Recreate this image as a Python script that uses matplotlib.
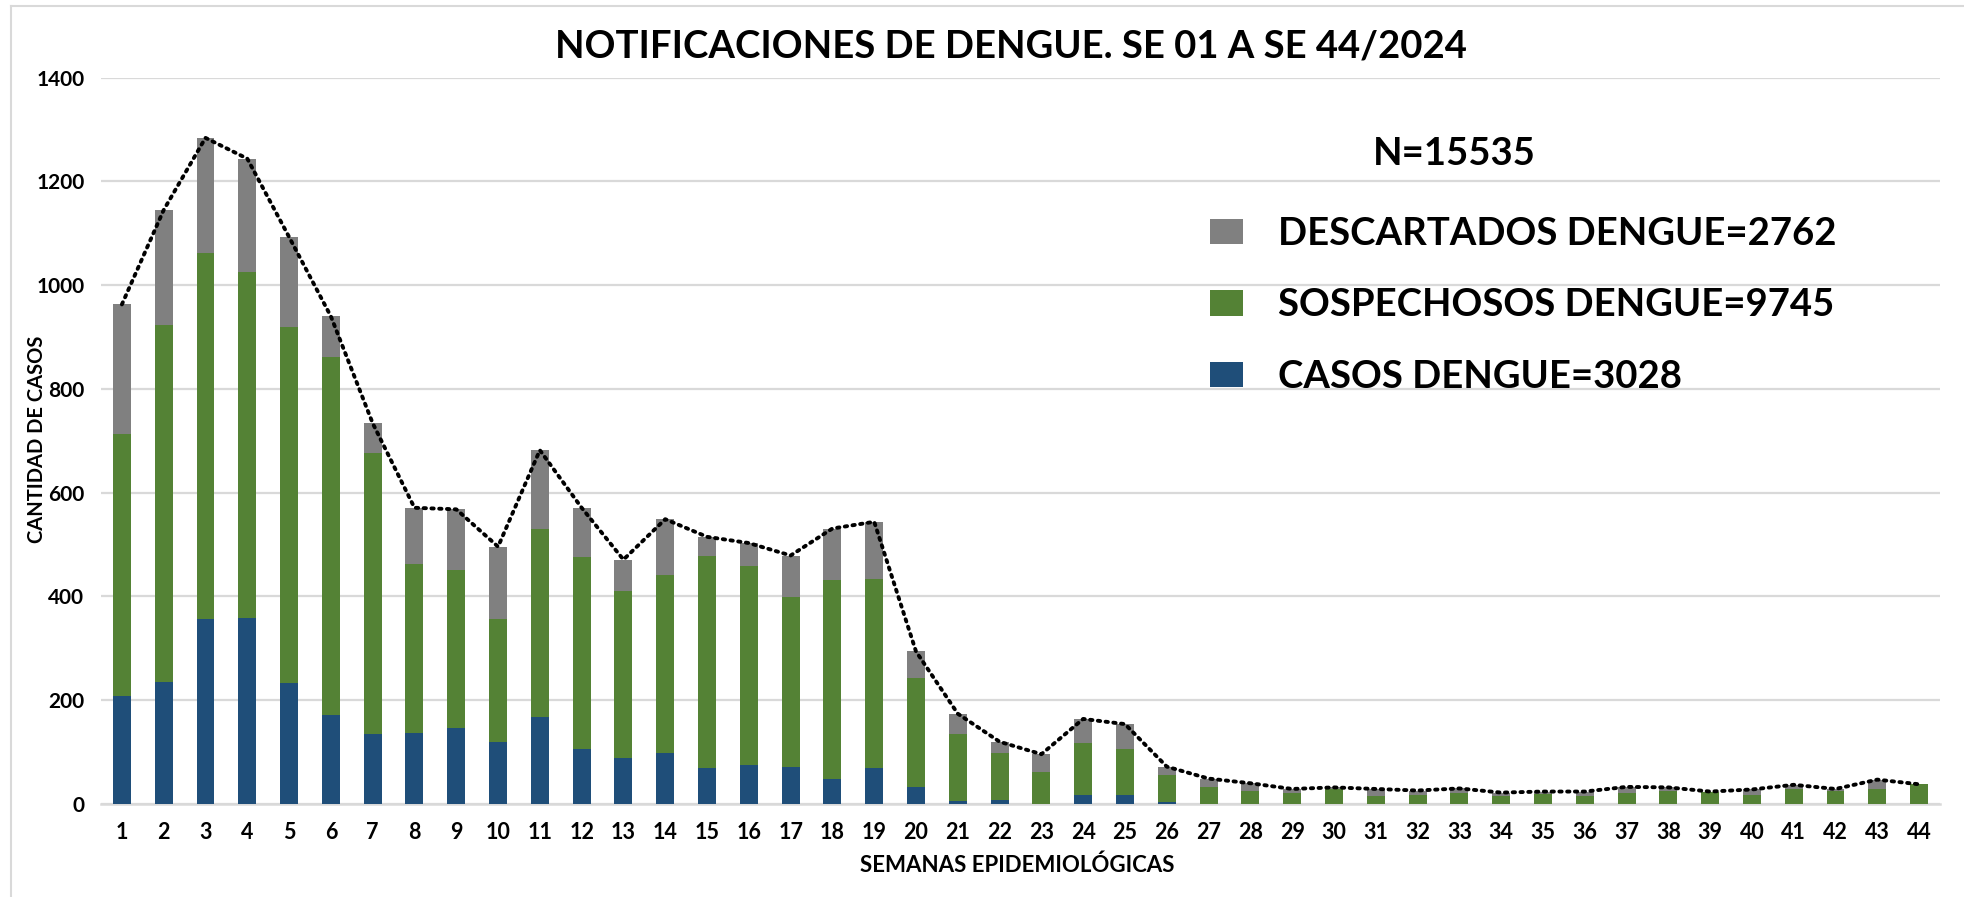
import matplotlib
matplotlib.use("Agg")
import matplotlib.pyplot as plt
from matplotlib.lines import Line2D
import numpy as np

plt.rcParams['font.family'] = ['Lato', 'DejaVu Sans']

semanas = [str(i) for i in range(1, 45)]
casos = [208, 236, 356, 359, 233, 171, 134, 137, 147, 120,
         168, 106, 89, 99, 69, 76, 72, 49, 69, 32,
         5, 8, 0, 18, 18, 4, 0, 0, 0, 0,
         0, 0, 0, 0, 0, 0, 0, 0, 0, 0,
         0, 0, 0, 0]
sospechosos = [506, 687, 707, 666, 687, 690, 543, 325, 304, 236,
               362, 370, 321, 342, 410, 382, 327, 382, 365, 211,
               129, 91, 62, 99, 88, 52, 32, 25, 22, 29,
               15, 18, 21, 15, 19, 15, 21, 26, 23, 18,
               29, 26, 28, 38]
descartados = [249, 222, 221, 219, 173, 79, 57, 109, 117, 140,
               152, 95, 61, 108, 36, 45, 80, 100, 110, 51,
               40, 21, 34, 47, 48, 16, 17, 15, 7, 3,
               14, 8, 9, 7, 5, 9, 12, 6, 1, 10,
               8, 3, 19, 0]
yticks = [0, 200, 400, 600, 800, 1000, 1200, 1400]
labels = ["DESCARTADOS DENGUE=2762", "SOSPECHOSOS DENGUE=9745", "CASOS DENGUE=3028"]
titulo = "NOTIFICACIONES DE DENGUE. SE 01 A SE 44/2024"
n_text = "N=15535"

c_blue = "#1F4E79"
c_green = "#548235"
c_gray = "#808080"
c_grid = "#D9D9D9"

W, H = 1964, 897
fig = plt.figure(figsize=(W / 100, H / 100), dpi=100)
ax = fig.add_axes([101 / W, 1 - 804 / H, (1940 - 101) / W, (804 - 77.7) / H])

x = np.arange(1, len(semanas) + 1)
c = np.array(casos)
s = np.array(sospechosos)
d = np.array(descartados)
bw = 0.43
b1 = ax.bar(x, c, bw, color=c_blue, zorder=3)
b2 = ax.bar(x, s, bw, bottom=c, color=c_green, zorder=3)
b3 = ax.bar(x, d, bw, bottom=c + s, color=c_gray, zorder=3)
total = c + s + d
ax.plot(x, total, color="black", lw=2.8, linestyle=(0, (0.6, 1.4)),
        dash_capstyle="round", zorder=4)

ax.set_xlim(0.5, len(semanas) + 0.5)
ax.set_ylim(0, 1400)
ax.set_yticks(yticks)
ax.set_yticklabels([str(v) for v in yticks], fontsize=15, fontweight="bold")
ax.set_xticks(x)
ax.set_xticklabels(semanas, fontsize=15.5, fontweight="bold")
ax.tick_params(axis="both", length=0)
ax.tick_params(axis="x", pad=13)
ax.tick_params(axis="y", pad=12)
ax.yaxis.grid(True, color=c_grid, lw=1.6, zorder=0)
for sp in ["top", "right", "left"]:
    ax.spines[sp].set_visible(False)
ax.spines["bottom"].set_color(c_grid)
ax.spines["bottom"].set_linewidth(1.8)

fig.text(37 / W, 1 - 439 / H, "CANTIDAD DE CASOS", rotation=90, ha="center",
         va="center", fontsize=14.5, fontweight="bold")
fig.text(1017 / W, 1 - 865 / H, "SEMANAS EPIDEMIOLÓGICAS", ha="center",
         va="center", fontsize=16, fontweight="bold")
fig.text(1011 / W, 1 - 46 / H, titulo, ha="center", va="center",
         fontsize=27.5, fontweight="bold")
fig.text(1454 / W, 1 - 154 / H, n_text, ha="center", va="center",
         fontsize=27.5, fontweight="bold")

leg = fig.legend([b3, b2, b1], labels, loc="upper left",
                 bbox_to_anchor=(1210 / W, 1 - 217 / H), frameon=False,
                 prop={"size": 27.5, "weight": "bold"}, borderpad=0,
                 borderaxespad=0, handlelength=0.86, handleheight=0.65,
                 handletextpad=0.92, labelspacing=0.98)

# light border around chart area
fig.add_artist(Line2D([11 / W, 11 / W], [0, 1 - 6 / H], transform=fig.transFigure,
                      color=c_grid, lw=1.5))
fig.add_artist(Line2D([11 / W, 1], [1 - 6 / H, 1 - 6 / H], transform=fig.transFigure,
                      color=c_grid, lw=1.5))

fig.savefig("out.png", dpi=100)
